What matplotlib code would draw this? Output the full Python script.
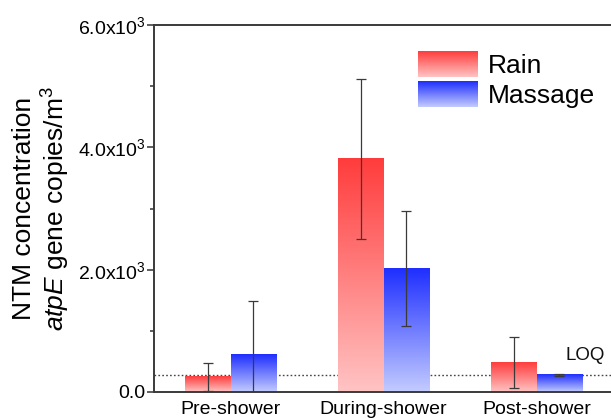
import numpy as np
import matplotlib
matplotlib.use("Agg")
import matplotlib.pyplot as plt
from matplotlib.colors import LinearSegmentedColormap
from matplotlib.legend_handler import HandlerBase
from matplotlib.image import BboxImage
from matplotlib.transforms import Bbox, TransformedBbox
from matplotlib.patches import Patch

# ---- data ----
categories = ["Pre-shower", "During-shower", "Post-shower"]
series_names = ["Rain", "Massage"]
rain_values = [250, 3810, 480]
rain_errors = [230, 1310, 420]
massage_values = [615, 2025, 280]
massage_errors = [870, 940, 12]
loq_value = 285
y_ticks = [0, 2000, 4000, 6000]
y_tick_labels = [r"0.0", r"$\mathregular{2.0x10^3}$", r"$\mathregular{4.0x10^3}$", r"$\mathregular{6.0x10^3}$"]

plt.rcParams['font.family'] = ['Liberation Sans', 'DejaVu Sans']
plt.rcParams['mathtext.fontset'] = 'custom'
plt.rcParams['mathtext.rm'] = 'Liberation Sans'
plt.rcParams['mathtext.it'] = 'Liberation Sans:italic'

W, H = 611, 418
fig = plt.figure(figsize=(W / 100, H / 100), dpi=100)
ax = fig.add_axes([154 / W, 26 / H, (613 - 154) / W, (393 - 26) / H])

red_cmap = LinearSegmentedColormap.from_list("red", ["#FFC4C4", "#FF3C3C"])
blue_cmap = LinearSegmentedColormap.from_list("blue", ["#C4CCFF", "#1E2EFF"])

x = np.arange(len(categories))
width = 0.30
grad = np.linspace(0, 1, 256).reshape(-1, 1)

err_kw = dict(ecolor="#3a3a3a", elinewidth=0.9, capsize=3.5, capthick=0.9)
bars_r = ax.bar(x - width / 2, rain_values, width, yerr=rain_errors,
                color="none", edgecolor="none", error_kw=err_kw, zorder=3)
bars_m = ax.bar(x + width / 2, massage_values, width, yerr=massage_errors,
                color="none", edgecolor="none", error_kw=err_kw, zorder=3)

for bars, cmap in ((bars_r, red_cmap), (bars_m, blue_cmap)):
    for p in bars:
        x0, y0 = p.get_x(), p.get_y()
        w, h = p.get_width(), p.get_height()
        ax.imshow(grad, cmap=cmap, origin="lower", aspect="auto",
                  extent=(x0, x0 + w, y0, y0 + h), zorder=2, interpolation="bilinear")

ax.axhline(loq_value, color="#444444", linestyle=(0, (1.2, 1.6)), linewidth=1.0, zorder=1)
ax.text(2.19, 600, "LOQ", fontsize=13.5, ha="left", va="center", color="#111111")

ax.set_xlim(-0.5, 2.5)
ax.set_ylim(0, 6000)
ax.set_xticks(x)
ax.set_xticklabels(categories, fontsize=14)
ax.set_yticks(y_ticks)
ax.set_yticklabels(y_tick_labels, fontsize=14)
ax.set_yticks([1000, 3000, 5000], minor=True)
ax.tick_params(axis="y", which="major", direction="out", length=5, width=1.1, color="#333333", pad=1)
ax.tick_params(axis="y", which="minor", direction="out", length=3, width=1.1, color="#333333")
ax.tick_params(axis="x", which="both", length=0, pad=6.5)
for s in ax.spines.values():
    s.set_color("#3a3a3a")
    s.set_linewidth(1.4)

ax.set_ylabel("NTM concentration\n" + r"$\it{atpE}$ gene copies/m$^3$", fontsize=19,
              linespacing=1.15, labelpad=4)


class GradientHandler(HandlerBase):
    def __init__(self, cmap):
        super().__init__()
        self.cmap = cmap

    def create_artists(self, legend, orig_handle, xdescent, ydescent, width, height, fontsize, trans):
        bb = Bbox.from_bounds(-xdescent, -ydescent, width, height)
        tbb = TransformedBbox(bb, trans)
        img = BboxImage(tbb, cmap=self.cmap, interpolation="bilinear", origin="lower")
        img.set_data(grad)
        return [img]


h_r = Patch(label=series_names[0])
h_m = Patch(label=series_names[1])
fs = 19
fspx = fs * 100 / 72
leg = fig.legend([h_r, h_m], series_names, loc="upper left",
                 bbox_to_anchor=(418 / W, 1 - 51 / H), frameon=False, fontsize=fs,
                 handlelength=60 / fspx, handleheight=30 / fspx, labelspacing=0.12,
                 handletextpad=0.38, borderpad=0, borderaxespad=0,
                 handler_map={h_r: GradientHandler(red_cmap), h_m: GradientHandler(blue_cmap)})

fig.savefig("out.png", dpi=100)
